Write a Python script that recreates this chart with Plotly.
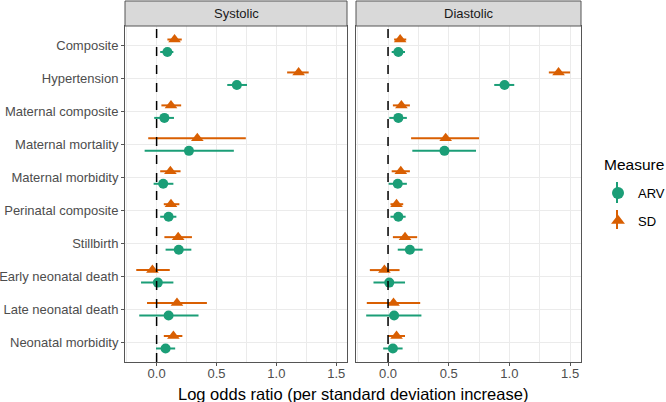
import plotly.graph_objects as go

categories = ["Composite", "Hypertension", "Maternal composite", "Maternal mortality",
              "Maternal morbidity", "Perinatal composite", "Stillbirth",
              "Early neonatal death", "Late neonatal death", "Neonatal morbidity"]
panels = ["Systolic", "Diastolic"]
x_ticks = [0.0, 0.5, 1.0, 1.5]
x_tick_labels = ["0.0", "0.5", "1.0", "1.5"]

# Systolic
sys_arv = [0.09, 0.67, 0.065, 0.27, 0.055, 0.10, 0.185, 0.01, 0.10, 0.075]
sys_arv_lo = [0.03, 0.59, -0.02, -0.10, -0.025, 0.03, 0.075, -0.13, -0.145, -0.005]
sys_arv_hi = [0.14, 0.755, 0.145, 0.645, 0.14, 0.165, 0.29, 0.14, 0.35, 0.155]
sys_sd = [0.15, 1.186, 0.12, 0.34, 0.115, 0.12, 0.18, -0.035, 0.17, 0.14]
sys_sd_lo = [0.09, 1.09, 0.04, -0.07, 0.03, 0.06, 0.065, -0.17, -0.08, 0.06]
sys_sd_hi = [0.21, 1.27, 0.205, 0.745, 0.20, 0.19, 0.295, 0.11, 0.42, 0.215]

# Diastolic
dia_arv = [0.085, 0.96, 0.085, 0.465, 0.08, 0.085, 0.18, 0.01, 0.05, 0.04]
dia_arv_lo = [0.03, 0.875, 0.01, 0.20, 0.005, 0.02, 0.08, -0.12, -0.18, -0.04]
dia_arv_hi = [0.14, 1.04, 0.155, 0.725, 0.155, 0.145, 0.285, 0.14, 0.275, 0.12]
dia_sd = [0.10, 1.405, 0.11, 0.475, 0.105, 0.07, 0.14, -0.03, 0.045, 0.07]
dia_sd_lo = [0.05, 1.325, 0.04, 0.19, 0.03, 0.02, 0.04, -0.15, -0.175, 0.0]
dia_sd_hi = [0.15, 1.50, 0.18, 0.75, 0.18, 0.125, 0.24, 0.095, 0.265, 0.14]

ARV_COLOR = "#1B9E77"
SD_COLOR = "#D95F02"
BORDER = "#555555"
FONT = "Liberation Sans, Arial, sans-serif"
DODGE = 0.19

n = len(categories)
ypos = [n - 1 - i for i in range(n)]

W, H = 666, 402
def px_x(p): return p / W
def px_y(p): return 1 - p / H

dom1 = [px_x(125), px_x(347)]
dom2 = [px_x(356), px_x(581)]
ydom = [px_y(362), px_y(26)]

fig = go.Figure()

def add_pair(xa, ya, arv, lo_a, hi_a, sd, lo_s, hi_s, show):
    fig.add_trace(go.Scatter(
        x=arv, y=[v - DODGE for v in ypos], mode="markers", name="ARV",
        marker=dict(symbol="circle", size=10, color=ARV_COLOR),
        error_x=dict(type="data", symmetric=False,
                     array=[h - v for h, v in zip(hi_a, arv)],
                     arrayminus=[v - l for v, l in zip(arv, lo_a)],
                     width=0, thickness=2, color=ARV_COLOR),
        xaxis=xa, yaxis=ya, showlegend=show, legendgroup="ARV"))
    fig.add_trace(go.Scatter(
        x=sd, y=[v + DODGE for v in ypos], mode="markers", name="SD",
        marker=dict(symbol="triangle-up", size=11, color=SD_COLOR),
        error_x=dict(type="data", symmetric=False,
                     array=[h - v for h, v in zip(hi_s, sd)],
                     arrayminus=[v - l for v, l in zip(sd, lo_s)],
                     width=0, thickness=2, color=SD_COLOR),
        xaxis=xa, yaxis=ya, showlegend=show, legendgroup="SD"))

add_pair("x", "y", sys_arv, sys_arv_lo, sys_arv_hi, sys_sd, sys_sd_lo, sys_sd_hi, True)
add_pair("x2", "y2", dia_arv, dia_arv_lo, dia_arv_hi, dia_sd, dia_sd_lo, dia_sd_hi, False)

xcommon = dict(range=[-0.264, 1.59], tickvals=x_ticks, ticktext=x_tick_labels,
               showgrid=True, gridcolor="#EBEBEB", gridwidth=1,
               minor=dict(showgrid=True, gridcolor="#EBEBEB", gridwidth=0.5, dtick=0.25, tick0=0),
               showline=True, mirror=True, linecolor=BORDER, linewidth=1,
               ticks="outside", ticklen=3, tickcolor=BORDER, automargin=False,
               ticklabelstandoff=-4,
               tickfont=dict(family=FONT, size=13, color="#4D4D4D"), zeroline=False)
ycommon = dict(range=[-0.6, n - 0.4], tickvals=ypos, ticktext=categories,
               showgrid=True, gridcolor="#EBEBEB", gridwidth=1, automargin=False,
               showline=True, mirror=True, linecolor=BORDER, linewidth=1,
               zeroline=False, domain=ydom)

fig.update_layout(
    width=W, height=H, margin=dict(l=0, r=0, t=0, b=0, autoexpand=False),
    plot_bgcolor="white", paper_bgcolor="white",
    font=dict(family=FONT),
    xaxis=dict(domain=dom1, anchor="y", **xcommon),
    xaxis2=dict(domain=dom2, anchor="y2", **xcommon),
    yaxis=dict(anchor="x", ticks="outside", ticklen=3, tickcolor=BORDER,
               tickfont=dict(family=FONT, size=13, color="#4D4D4D"), **ycommon),
    yaxis2=dict(anchor="x2", showticklabels=False, ticks="", **ycommon),
    legend=dict(xref="container", yref="container", x=px_x(598), y=px_y(178),
                xanchor="left", yanchor="top",
                font=dict(family=FONT, size=13, color="black"),
                bgcolor="rgba(0,0,0,0)", tracegroupgap=8, itemsizing="constant"),
)

fig.add_annotation(xref="paper", yref="paper", x=px_x(602), y=px_y(165), xanchor="left",
                   yanchor="middle", text="Measure", showarrow=False,
                   font=dict(family=FONT, size=15.5, color="black"))

# legend key vertical strokes (as in the ggplot pointrange key)
for y0, y1, col in [(182, 203, ARV_COLOR), (210, 229, SD_COLOR)]:
    fig.add_shape(type="line", xref="paper", yref="paper", x0=px_x(617), x1=px_x(617),
                  y0=px_y(y0), y1=px_y(y1), line=dict(color=col, width=2))

for xa in ["x", "x2"]:
    fig.add_shape(type="line", xref=xa, yref="paper", x0=0, x1=0, y0=ydom[0], y1=ydom[1],
                  line=dict(color="black", width=1.5, dash="dash"))

# strips
for dom, label in zip([dom1, dom2], panels):
    fig.add_shape(type="rect", xref="paper", yref="paper", x0=dom[0], x1=dom[1],
                  y0=px_y(26), y1=px_y(1), fillcolor="#D9D9D9", line=dict(color=BORDER, width=1))
    fig.add_annotation(xref="paper", yref="paper", x=(dom[0] + dom[1]) / 2, y=px_y(13.5),
                       xanchor="center", yanchor="middle",
                       text=label, showarrow=False, font=dict(family=FONT, size=13, color="#1A1A1A"))

fig.add_annotation(xref="paper", yref="paper", x=px_x(353), y=px_y(394),
                   xanchor="center", yanchor="middle",
                   text="Log odds ratio (per standard deviation increase)", showarrow=False,
                   font=dict(family=FONT, size=16.5, color="black"))

fig.write_html("out.html", config={"displayModeBar": False},
               post_script="document.body.style.margin='0';document.body.style.overflow='hidden';")
